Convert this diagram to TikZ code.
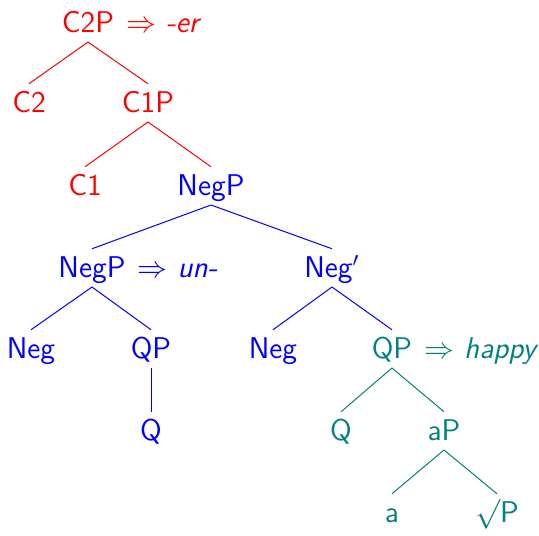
\documentclass[tikz,border=0pt]{standalone}
\definecolor{tealc}{RGB}{0,128,128}
\begin{document}
\begin{tikzpicture}[x=0.4pt, y=-0.4pt, font=\fontsize{12}{14}\sffamily,
  cat/.style={anchor=base, inner xsep=3pt, inner ysep=2.8pt, text height=8.3pt, text depth=1pt},
  note/.style={anchor=base west, inner sep=1.5pt}]
\useasboundingbox (0,0) rectangle (539,535);
% red part
\node[cat, red] (c2p) at (88,32) {C2P};
\node[note, red] (c2pnote) at (c2p.base east) {$\Rightarrow$ \textit{-er}};
\node[cat, red] (c2) at (29,112) {C2};
\node[cat, red] (c1p) at (148,112) {C1P};
\node[cat, red] (c1) at (85,195) {C1};
% blue part
\node[cat, blue] (negp) at (211,195) {NegP};
\node[cat, blue] (negpl) at (92,277) {NegP};
\node[note, blue] (negpnote) at (negpl.base east) {$\Rightarrow$ \textit{un-}};
\node[cat, blue] (negbar) at (332,277) {Neg$'$};
\node[cat, blue] (negl) at (31,358) {Neg};
\node[cat, blue] (qpl) at (151,358) {QP};
\node[cat, blue] (ql) at (151,440) {Q};
\node[cat, blue] (negr) at (273,358) {Neg};
% teal part
\node[cat, tealc] (qpr) at (392,358) {QP};
\node[note, tealc] (qpnote) at (qpr.base east) {$\Rightarrow$ \textit{happy}};
\node[cat, tealc] (qr) at (341,440) {Q};
\node[cat, tealc] (ap) at (444,440) {aP};
\node[cat, tealc] (a) at (392,522) {a};
\node[cat, tealc] (rootp) at (497,522) {$\surd$P};
% branches
\draw[red] (c2p.south) -- (c2.north);
\draw[red] (c2p.south) -- (c1p.north);
\draw[red] (c1p.south) -- (c1.north);
\draw[red] (c1p.south) -- (negp.north);
\draw[blue] (negp.south) -- (negpl.north);
\draw[blue] (negp.south) -- (negbar.north);
\draw[blue] (negpl.south) -- (negl.north);
\draw[blue] (negpl.south) -- (qpl.north);
\draw[blue] (qpl.south) -- (ql.north);
\draw[blue] (negbar.south) -- (negr.north);
\draw[blue] (negbar.south) -- (qpr.north);
\draw[tealc] (qpr.south) -- (qr.north);
\draw[tealc] (qpr.south) -- (ap.north);
\draw[tealc] (ap.south) -- (a.north);
\draw[tealc] (ap.south) -- (rootp.north);
\end{tikzpicture}
\end{document}
